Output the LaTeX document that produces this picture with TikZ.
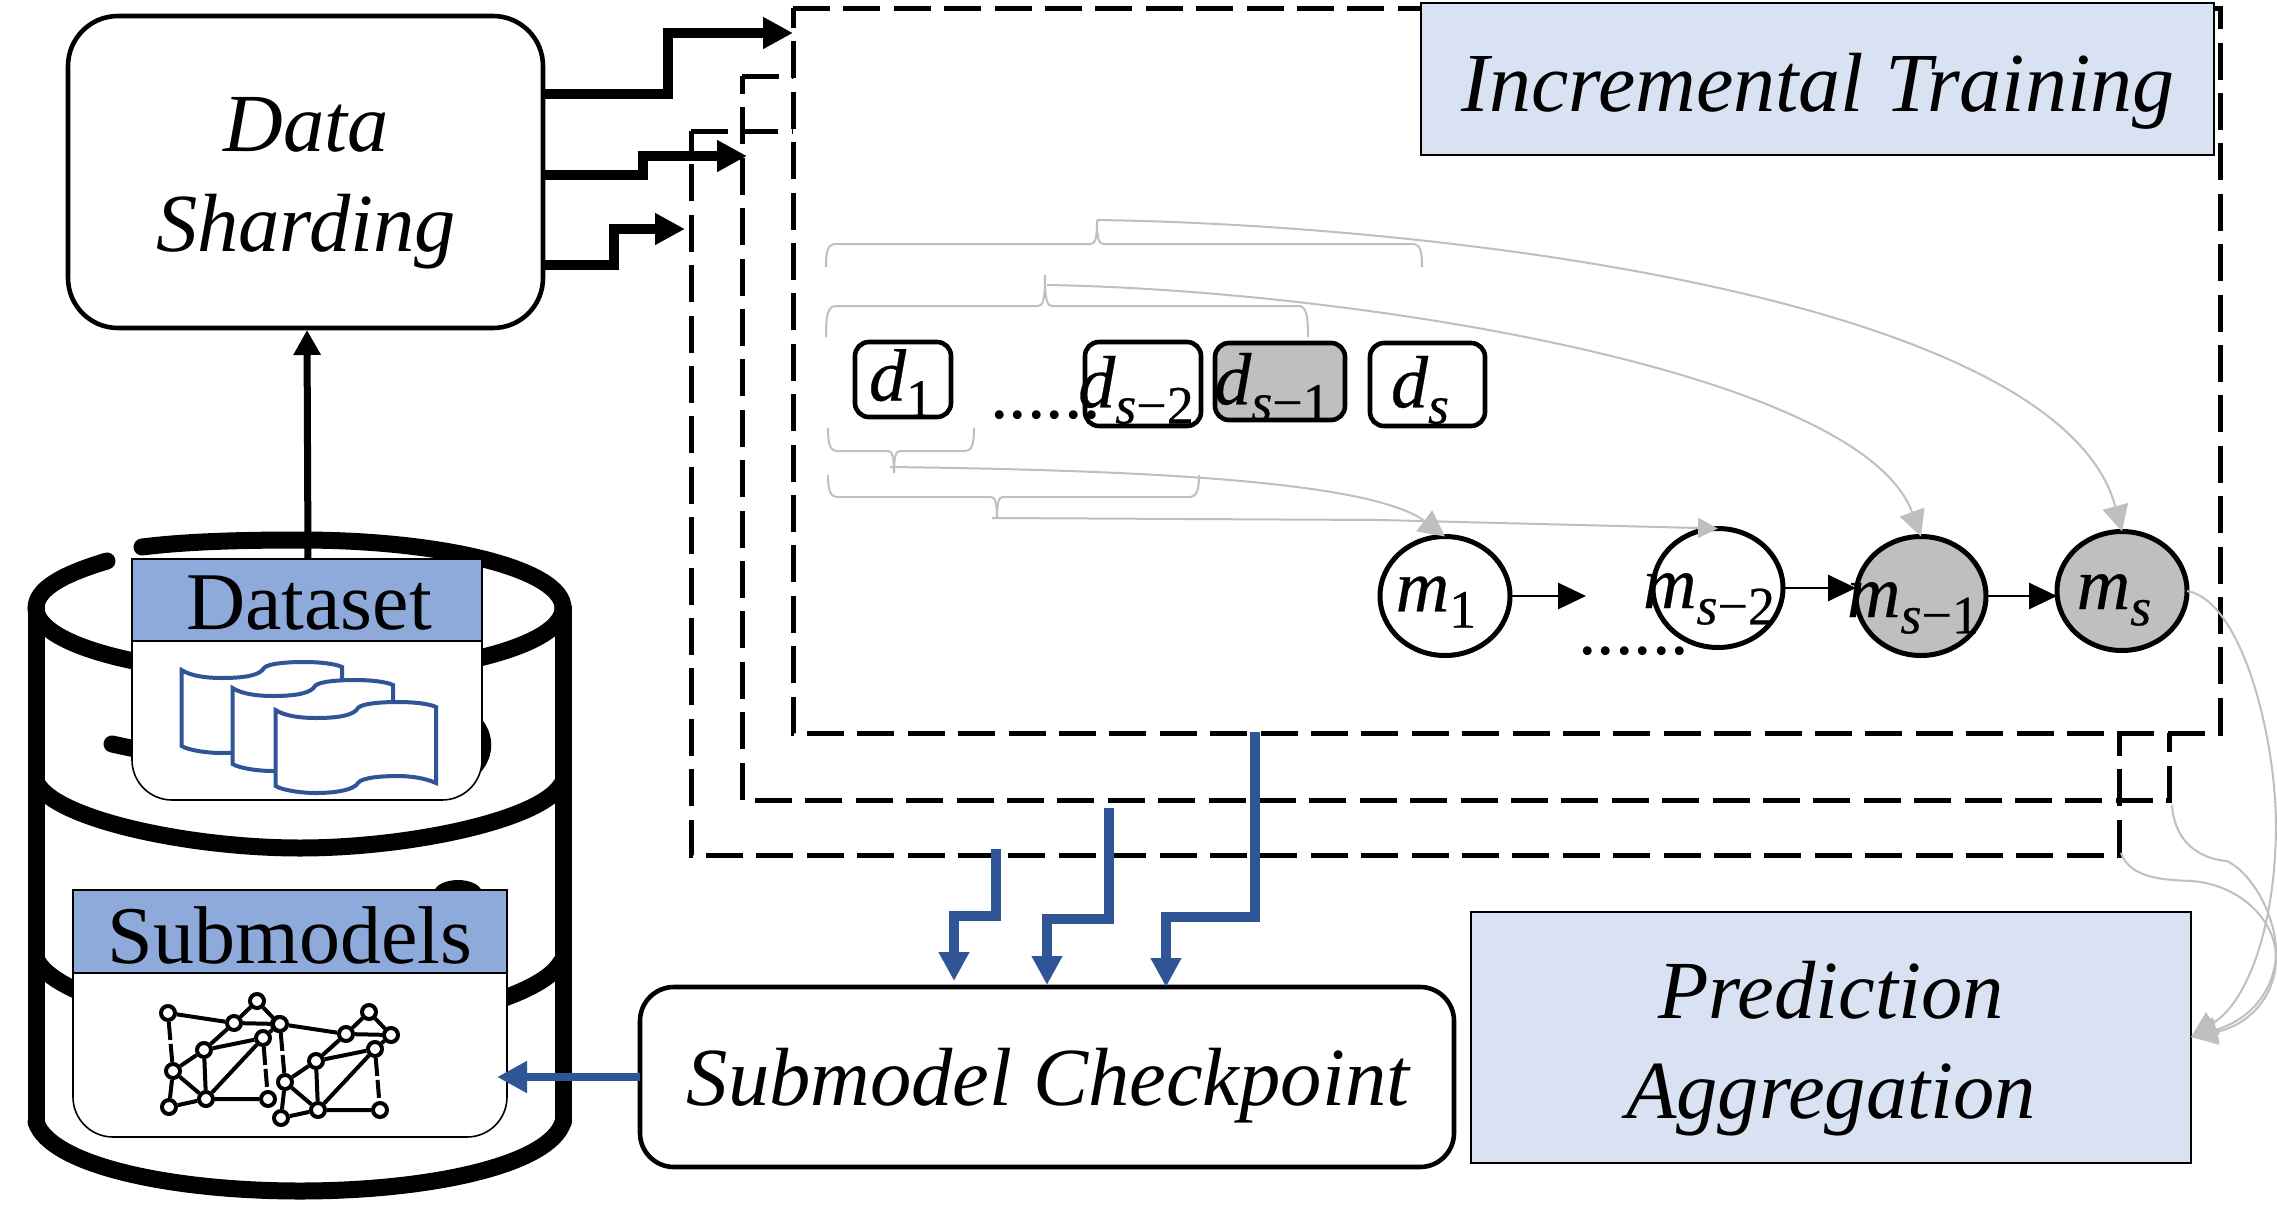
\documentclass[tikz,border=0pt]{standalone}
\usepackage{fontspec}
\setmainfont{Liberation Serif}
\newfontfamily\mfam[FakeBold=0.4]{Liberation Serif}
\usetikzlibrary{arrows.meta,calc,shapes.geometric}
\definecolor{hdrblue}{HTML}{8EAADB}
\definecolor{lightblue}{HTML}{D9E2F3}
\definecolor{arrowblue}{HTML}{2F5597}
\definecolor{softgrey}{HTML}{BFBFBF}
\newcommand{\mlab}[3]{{\mfam\itshape #1\raisebox{-0.22em}{\fontsize{27}{27}\selectfont #2\upshape #3}}}
\tikzset{
  roundbox/.style={draw=black,fill=white,line width=2.3pt,rounded corners=#1,inner sep=0pt,outer sep=0pt},
  hdr/.style={draw=black,fill=hdrblue,line width=0.8pt,inner sep=0pt,outer sep=0pt,font=\fontsize{41}{41}\selectfont},
  hdrbody/.style={draw=black,fill=white,line width=0.8pt,rounded corners=20pt,inner sep=0pt,outer sep=0pt},
  labelbox/.style={draw=black,fill=lightblue,line width=1pt,inner sep=0pt,outer sep=0pt,align=center},
  bigtext/.style={font=\fontsize{41.3}{50}\selectfont\itshape,align=center,inner sep=0pt},
  dashrect/.style={draw=black,line width=2.5pt,dash pattern=on 18.5pt off 6.7pt},
  can/.style={line width=8.5pt,line cap=round,draw=black},
  feed/.style={draw=black,line width=#1,-{Triangle[length=15pt,width=15pt]},miter limit=10},
  bluearrow/.style={draw=arrowblue,line width=5pt,-{Triangle[length=14.5pt,width=14.5pt]}},
  dbox/.style={draw=black,line width=2.3pt,rounded corners=7pt,inner sep=0pt,outer sep=0pt},
  mnode/.style={draw=black,line width=2.5pt,ellipse,minimum width=65pt,minimum height=59.5pt,inner sep=0pt,outer sep=0pt},
  mathlabel/.style={font=\fontsize{37}{37}\selectfont,inner sep=0pt},
  thinarrow/.style={draw=black,line width=1.4pt,-{Triangle[length=14pt,width=13pt]}},
  greybrace/.style={draw=softgrey,line width=1pt},
  greycurve/.style={draw=softgrey,line width=1pt,-{Triangle[length=13pt,width=13pt]}},
  netnode/.style={circle,draw=black,fill=white,line width=2pt,minimum size=7pt,inner sep=0pt},
  netedge/.style={draw=black,line width=2pt},
  docshape/.style={draw=arrowblue,fill=white,line width=2pt},
  dotstext/.style={font=\fontsize{37}{37}\selectfont,inner sep=0pt,anchor=base west},
}
\newcommand{\netgraph}[2]{%
  \begin{scope}[shift={#2}]
    \node[netnode] (#1a) at (168,1013) {};
    \node[netnode] (#1b) at (257,1001) {};
    \node[netnode] (#1c) at (234,1023) {};
    \node[netnode] (#1d) at (279,1024) {};
    \node[netnode] (#1e) at (263,1038) {};
    \node[netnode] (#1f) at (204,1050) {};
    \node[netnode] (#1g) at (173,1071) {};
    \node[netnode] (#1h) at (206,1099) {};
    \node[netnode] (#1i) at (169,1107) {};
    \node[netnode] (#1j) at (268,1099) {};
    \draw[netedge] (#1a)--(#1c) (#1c)--(#1b) (#1b)--(#1d) (#1c)--(#1d) (#1d)--(#1e)
      (#1c)--(#1f) (#1f)--(#1e) (#1f)--(#1g) (#1f)--(#1h) (#1e)--(#1h) (#1g)--(#1h)
      (#1g)--(#1i) (#1h)--(#1i) (#1h)--(#1j);
    \draw[netedge,dash pattern=on 9pt off 2pt] (#1a)--(#1g) (#1e)--(#1j);
  \end{scope}}
\newcommand{\docicon}[2]{%
  \draw[docshape,shift={(#1,#2)}] (275.5,710) .. controls (285,716) and (300,718) .. (316,718)
    .. controls (340,718) and (354,715) .. (358,708) .. controls (362,703) and (385,702) .. (398,702)
    .. controls (415,702) and (430,704) .. (436,707) -- (436,783)
    .. controls (425,778) and (410,776) .. (398,776) .. controls (385,776) and (362,777) .. (358,783)
    .. controls (354,790) and (335,793) .. (316,793) .. controls (300,793) and (282,790) .. (275.5,786) -- cycle;}
\begin{document}
\begin{tikzpicture}[x=0.5pt,y=-0.5pt]
\useasboundingbox[fill=white] (0,0) rectangle (2277,1205);

% database cylinder
\draw[can] (107,561) .. controls (60,575) and (36,590) .. (36,608)
   .. controls (36,646) and (154,676) .. (300,676) .. controls (446,676) and (563,646) .. (563,608);
\draw[can] (142,547) .. controls (190,541) and (250,540) .. (300,540) .. controls (446,540) and (563,570) .. (563,608);
\draw[can] (36,608) -- (36,1122);
\draw[can] (563,608) -- (563,1122);
\draw[can] (38,785) .. controls (60,820) and (190,848) .. (300,848) .. controls (410,848) and (540,820) .. (561,785);
\draw[can] (38,962) .. controls (60,1000) and (190,1030) .. (300,1030) .. controls (410,1030) and (540,1000) .. (561,962);
\draw[can] (36,1122) .. controls (50,1165) and (170,1191) .. (300,1191) .. controls (430,1191) and (550,1165) .. (563,1122);
\draw[can] (112,744) -- (140,750);
\draw[can] (464,715) .. controls (489,730) and (489,760) .. (464,775);
\fill[black] (458,893) ellipse [x radius=12pt,y radius=6.5pt];

% dashed training boxes
\coordinate (t3a) at (691,131);
\coordinate (t3b) at (2119,131);
\coordinate (t3c) at (2119,855);
\coordinate (t3d) at (691,855);
\coordinate (t2a) at (742,76);
\coordinate (t2b) at (2169,76);
\coordinate (t2c) at (2169,800);
\coordinate (t2d) at (742,800);
\coordinate (t1a) at (793,8);
\coordinate (t1b) at (2220,8);
\coordinate (t1c) at (2220,733);
\coordinate (t1d) at (793,733);
\draw[dashrect] (t3a) -- (t3b) -- (t3c) -- (t3d) -- cycle;
\draw[dashrect] (t2a) -- (t2b) -- (t2c) -- (t2d) -- cycle;
\draw[dashrect,fill=white] (t1a) -- (t1b) -- (t1c) -- (t1d) -- cycle;

% main boxes
\node[roundbox=25pt,minimum width=237.5pt,minimum height=156pt] (sharding) at (305.5,172) {};
\node[bigtext] (shardingtext) at (306,183) {Data\\Sharding};
\node[roundbox=17pt,minimum width=407pt,minimum height=90pt] (checkpoint) at (1047,1077) {};
\node[bigtext] (checkpointtext) at (1048,1086) {Submodel Checkpoint};
\node[labelbox,minimum width=396.5pt,minimum height=76pt] (inclabel) at (1817.5,79) {};
\node[bigtext,font=\fontsize{42}{50}\selectfont\itshape] (inctext) at (1818,91) {Incremental Training};
\node[labelbox,minimum width=360pt,minimum height=125.5pt] (predlabel) at (1831,1037.5) {};
\node[bigtext] (predtext) at (1831,1049) {Prediction\\Aggregation};

% dataset card
\coordinate (up0) at (308,559);
\coordinate (up1) at (307,330);
\node[hdrbody,minimum width=175pt,minimum height=120.5pt] (dsbody) at (307,679.5) {};
\node[hdr,minimum width=175pt,minimum height=41pt] (dshead) at (307,600) {};
\node[inner sep=0pt,font=\fontsize{41}{41}\selectfont] (dstext) at (309,603) {Dataset};
\docicon{-94}{-40}
\docicon{-43}{-22}
\docicon{0}{0}

% submodels card
\node[hdrbody,minimum width=217pt,minimum height=123.5pt] (smbody) at (290,1013.5) {};
\node[hdr,minimum width=217pt,minimum height=41.5pt] (smhead) at (290,931.5) {};
\node[inner sep=0pt,font=\fontsize{41}{41}\selectfont] (smtext) at (290,935) {Submodels};
\netgraph{p}{(0,0)}
\netgraph{q}{(112,11)}

% data flows
\draw[draw=black,line width=3.5pt,-{Triangle[length=12.5pt,width=13pt]}] (dshead.north -| up0) -- (up1);
\coordinate (f1a) at (668,94);
\coordinate (f1b) at (668,33);
\coordinate (f2a) at (643,175);
\coordinate (f2b) at (643,156);
\coordinate (f3a) at (614,265);
\coordinate (f3b) at (614,229);
\coordinate (f3t) at (685,229);
\coordinate (f2t) at (747,156);
\draw[feed=5pt] (sharding.east |- f1a) -- (f1a) -- (f1b) -- (t1a |- f1b);
\draw[feed=4.8pt] (sharding.east |- f2a) -- (f2a) -- (f2b) -- (f2t);
\draw[feed=4.8pt] (sharding.east |- f3a) -- (f3a) -- (f3b) -- (f3t);

% blue arrows
\coordinate (b1a) at (1255,732);
\coordinate (b1b) at (1255,917);
\coordinate (b1c) at (1166,917);
\coordinate (b2a) at (1109,808);
\coordinate (b2b) at (1109,919);
\coordinate (b2c) at (1047,919);
\coordinate (b2t) at (1047,985);
\coordinate (b3a) at (996,849);
\coordinate (b3b) at (996,916);
\coordinate (b3c) at (954,916);
\coordinate (b3t) at (954,981);
\draw[bluearrow] (b1a) -- (b1b) -- (b1c) -- (b1c |- checkpoint.north);
\draw[bluearrow] (b2a) -- (b2b) -- (b2c) -- (b2t);
\draw[bluearrow] (b3a) -- (b3b) -- (b3c) -- (b3t);
\coordinate (smtip) at (497,1077);
\draw[bluearrow,line width=4pt,-{Triangle[length=15pt,width=15pt]}] (checkpoint.west) -- (smtip);

% shard boxes
\node[dbox,fill=white,minimum width=48pt,minimum height=37.5pt] (d1) at (903,379.5) {};
\node[dbox,fill=white,minimum width=58pt,minimum height=42pt] (ds2) at (1143,384) {};
\node[dbox,fill=softgrey,minimum width=65pt,minimum height=38.5pt] (ds1) at (1280,381.5) {};
\node[dbox,fill=white,minimum width=57.5pt,minimum height=41.5pt] (ds) at (1427.5,384.5) {};
\node[mathlabel] (d1t) at (901,383) {\mlab{d}{}{1}};
\node[mathlabel] (ds2t) at (1136,390) {\mlab{d}{s}{−2}};
\node[mathlabel] (ds1t) at (1272,387) {\mlab{d}{s}{−1}};
\node[mathlabel] (dst) at (1420,390) {\mlab{d}{s}{}};
\node[dotstext] (dots1) at (990,418) {......};

% submodel nodes
\node[mnode,fill=white] (m1) at (1445,596) {};
\node[mnode,fill=white] (ms2) at (1718,588) {};
\node[mnode,fill=softgrey] (ms1) at (1921,596) {};
\node[mnode,fill=softgrey] (ms) at (2122,591) {};
\coordinate (m1end) at (1586,596);
\draw[thinarrow] (m1.east) -- (m1end);
\draw[thinarrow] (ms2.east) -- (ms1.west |- ms2.east);
\draw[thinarrow] (ms1.east) -- (ms.west |- ms1.east);
\node[mathlabel] (m1t) at (1436,602) {\mlab{m}{}{1}};
\node[mathlabel] (ms2t) at (1709,599) {\mlab{m}{s}{−2}};
\node[mathlabel] (ms1t) at (1913,608) {\mlab{m}{s}{−1}};
\node[mathlabel] (mst) at (2114,600) {\mlab{m}{s}{}};
\node[dotstext] (dots2) at (1578,654) {......};

% braces
\coordinate (br1) at (1097,220);
\coordinate (br2) at (1045,275);
\coordinate (br3) at (894,473);
\coordinate (br4) at (997,518);
\draw[greybrace] (826,267) .. controls (826,250) and (828,244) .. (836,244) -- (1090,244)
  .. controls (1095,244) and (1097,240) .. (br1) .. controls (1097,240) and (1099,244) .. (1104,244)
  -- (1412,244) .. controls (1420,244) and (1422,250) .. (1422,267);
\draw[greybrace] (826,337) .. controls (826,314) and (828,306) .. (836,306) -- (1038,306)
  .. controls (1043,306) and (1045,300) .. (br2) .. controls (1045,300) and (1047,306) .. (1052,306)
  -- (1298,306) .. controls (1306,306) and (1308,314) .. (1308,337);
\draw[greybrace] (828,428) .. controls (828,445) and (830,451) .. (838,451) -- (888,451)
  .. controls (892,451) and (894,456) .. (br3) .. controls (894,456) and (896,451) .. (900,451) -- (964,451)
  .. controls (972,451) and (974,445) .. (974,428);
\draw[greybrace] (828,475) .. controls (828,490) and (830,497) .. (838,497) -- (991,497)
  .. controls (995,497) and (997,502) .. (br4) .. controls (997,502) and (999,497) .. (1003,497) -- (1189,497)
  .. controls (1197,497) and (1199,490) .. (1199,475);

% grey curves
\coordinate (c1) at (1097,220);
\coordinate (c2) at (1047,285);
\coordinate (c3) at (890,467);
\coordinate (c4) at (992,518);
\coordinate (c4b) at (1380,520);
\draw[greycurve] (c1) .. controls (1450,225) and (2060,300) .. (ms.north);
\draw[greycurve] (c2) .. controls (1350,290) and (1860,370) .. (ms1.north);
\draw[greycurve] (c3) .. controls (1130,470) and (1370,480) .. (m1.north);
\draw[greycurve,-{Triangle[length=10pt,width=10pt]}] (c4) -- (c4b) -- (ms2.north);
\coordinate (pt) at (2192,1037);
\coordinate (p2) at (2172,805);
\coordinate (p3) at (2121,853);
\draw[greycurve] (ms.east) .. controls (2240,600) and (2275,730) .. (2276,824) .. controls (2276,920) and (2250,1000) .. (predlabel.east |- pt);
\draw[greycurve] (p2) .. controls (2175,850) and (2210,860) .. (2227,861) .. controls (2255,875) and (2276,920) .. (2276,951) .. controls (2276,990) and (2250,1020) .. (predlabel.east |- pt);
\draw[greycurve] (p3) .. controls (2130,880) and (2170,880) .. (2192,881) .. controls (2240,885) and (2276,920) .. (2276,958) .. controls (2276,995) and (2250,1025) .. (predlabel.east |- pt);
\end{tikzpicture}
\end{document}
